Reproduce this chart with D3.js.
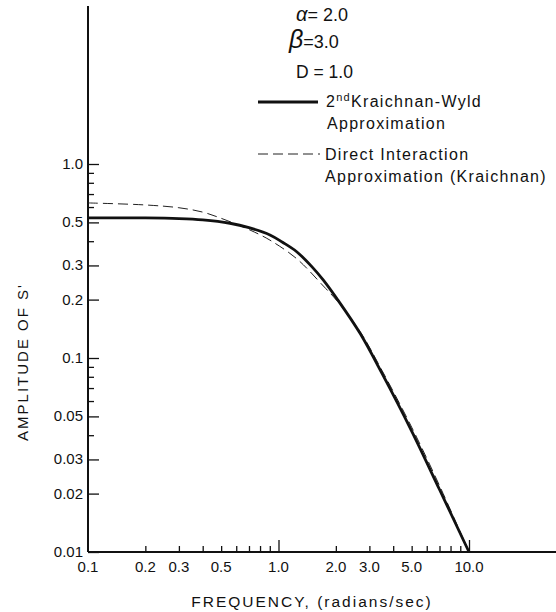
<!DOCTYPE html>
<html>
<head>
<meta charset="utf-8">
<script src="https://cdn.jsdelivr.net/npm/d3@7"></script>
<style>
  body { margin: 0; background: #fff; }
  text { font-family: "Liberation Sans", Arial, sans-serif; fill: #111; }
</style>
</head>
<body>
<script>
// frequency (rad/sec) and amplitude of S'
const freqKW = [0.1, 0.2, 0.3, 0.4, 0.556, 0.7, 0.902, 1.05, 1.246, 1.5, 1.72, 2.02, 2.68, 3.5, 5.0, 7.0, 10.0];
const ampKW = [0.527, 0.527, 0.523, 0.515, 0.495, 0.47, 0.431, 0.395, 0.353, 0.295, 0.252, 0.203, 0.134, 0.083, 0.042, 0.021, 0.01];
const freqDIA = [0.1, 0.2, 0.3, 0.4, 0.5, 0.63, 0.75, 0.902, 1.246, 1.72, 2.02, 2.68, 3.5, 5.0, 7.0, 10.0];
const ampDIA = [0.63, 0.615, 0.595, 0.565, 0.525, 0.48, 0.445, 0.405, 0.325, 0.235, 0.198, 0.137, 0.086, 0.044, 0.022, 0.01];

const xTickVals = [0.1, 0.2, 0.3, 0.5, 1, 2, 3, 5, 10];
const xTickLabels = ["0.1", "0.2", "0.3", "0.5", "1.0", "2.0", "3.0", "5.0", "10.0"];
const yTickVals = [1, 0.5, 0.3, 0.2, 0.1, 0.05, 0.03, 0.02, 0.01];
const yTickLabels = ["1.0", "0.5", "0.3", "0.2", "0.1", "0.05", "0.03", "0.02", "0.01"];

const width = 556, height = 612;
const x0 = 88, y0 = 552;

const svg = d3.select("body").append("svg")
    .attr("width", width)
    .attr("height", height);

const x = d3.scaleLog().domain([0.1, 10]).range([x0, 469]);
const y = d3.scaleLog().domain([0.01, 1]).range([y0, 164]);

// minor ticks
const xMinor = [];
[0.1, 1].forEach(d => { for (let k = 2; k <= 9; k++) xMinor.push(d * k); });
const yMinor = [];
[0.01, 0.1, 1].forEach(d => { for (let k = 1; k <= 9; k++) if (d * k <= 1 && !yTickVals.includes(+(d * k).toFixed(3))) yMinor.push(d * k); });

// x axis
svg.append("line")
    .attr("x1", x0).attr("x2", width)
    .attr("y1", y0).attr("y2", y0)
    .attr("stroke", "#111").attr("stroke-width", 2);

svg.append("g")
    .attr("transform", `translate(0,${y0})`)
    .call(d3.axisBottom(x).tickValues(xMinor).tickSize(-6).tickFormat(""))
    .call(g => g.select(".domain").remove())
    .call(g => g.selectAll("line").attr("stroke", "#111").attr("stroke-width", 1.3));

svg.append("g")
    .attr("transform", `translate(0,${y0})`)
    .call(d3.axisBottom(x).tickValues([1, 10]).tickSize(-12).tickFormat(""))
    .call(g => g.select(".domain").remove())
    .call(g => g.selectAll("line").attr("stroke", "#111").attr("stroke-width", 1.3));

svg.append("g").selectAll("text")
    .data(xTickVals)
    .join("text")
    .attr("x", d => x(d))
    .attr("y", y0 + 20)
    .attr("text-anchor", "middle")
    .attr("font-size", 15)
    .text((d, i) => xTickLabels[i]);

// y axis
svg.append("line")
    .attr("x1", x0).attr("x2", x0)
    .attr("y1", 6).attr("y2", y0)
    .attr("stroke", "#111").attr("stroke-width", 2);

svg.append("g")
    .attr("transform", `translate(${x0},0)`)
    .call(d3.axisLeft(y).tickValues(yMinor).tickSize(-6).tickFormat(""))
    .call(g => g.select(".domain").remove())
    .call(g => g.selectAll("line").attr("stroke", "#111").attr("stroke-width", 1.3));

svg.append("g")
    .attr("transform", `translate(${x0},0)`)
    .call(d3.axisLeft(y).tickValues(yTickVals).tickSize(-11).tickFormat(""))
    .call(g => g.select(".domain").remove())
    .call(g => g.selectAll("line").attr("stroke", "#111").attr("stroke-width", 1.3));

svg.append("g").selectAll("text")
    .data(yTickVals)
    .join("text")
    .attr("x", x0 - 5)
    .attr("y", d => y(d) + 5)
    .attr("text-anchor", "end")
    .attr("font-size", 15)
    .text((d, i) => yTickLabels[i]);

// axis titles
svg.append("text")
    .attr("x", 312).attr("y", 607)
    .attr("text-anchor", "middle")
    .attr("font-size", 15.5)
    .attr("letter-spacing", 2)
    .text("FREQUENCY, (radians/sec)");

svg.append("text")
    .attr("transform", "translate(28,362) rotate(-90)")
    .attr("text-anchor", "middle")
    .attr("font-size", 15)
    .attr("letter-spacing", 2)
    .text("AMPLITUDE OF S'");

// curves
const line = d3.line()
    .x(d => x(d[0]))
    .y(d => y(d[1]))
    .curve(d3.curveCatmullRom.alpha(0.5));

svg.append("path")
    .datum(freqDIA.map((f, i) => [f, ampDIA[i]]))
    .attr("d", line)
    .attr("fill", "none")
    .attr("stroke", "#222")
    .attr("stroke-width", 1)
    .attr("stroke-dasharray", "10,5");

svg.append("path")
    .datum(freqKW.map((f, i) => [f, ampKW[i]]))
    .attr("d", line)
    .attr("fill", "none")
    .attr("stroke", "#111")
    .attr("stroke-width", 2.8);

// parameters
svg.append("text").attr("x", 296).attr("y", 21).attr("font-size", 18)
    .html('<tspan font-style="italic" font-size="20">α</tspan>= 2.0');
svg.append("text").attr("x", 289).attr("y", 48).attr("font-size", 18)
    .html('<tspan font-style="italic" font-size="25">β</tspan>=3.0');
svg.append("text").attr("x", 296).attr("y", 78).attr("font-size", 17.5)
    .text("D = 1.0");

// legend
svg.append("line")
    .attr("x1", 258).attr("x2", 318)
    .attr("y1", 102).attr("y2", 102)
    .attr("stroke", "#111").attr("stroke-width", 2.8);
svg.append("text").attr("x", 326).attr("y", 107).attr("font-size", 16).attr("letter-spacing", 1.3)
    .html('2<tspan font-size="11" dy="-6">nd</tspan><tspan dy="6">Kraichnan-Wyld</tspan>');
svg.append("text").attr("x", 327).attr("y", 129).attr("font-size", 16).attr("letter-spacing", 1.3)
    .text("Approximation");

svg.append("line")
    .attr("x1", 258).attr("x2", 320)
    .attr("y1", 154).attr("y2", 154)
    .attr("stroke", "#222").attr("stroke-width", 1)
    .attr("stroke-dasharray", "10,5");
svg.append("text").attr("x", 325).attr("y", 160).attr("font-size", 16).attr("letter-spacing", 1.3)
    .text("Direct Interaction");
svg.append("text").attr("x", 325).attr("y", 182).attr("font-size", 16).attr("letter-spacing", 1.3)
    .text("Approximation (Kraichnan)");
</script>
</body>
</html>
